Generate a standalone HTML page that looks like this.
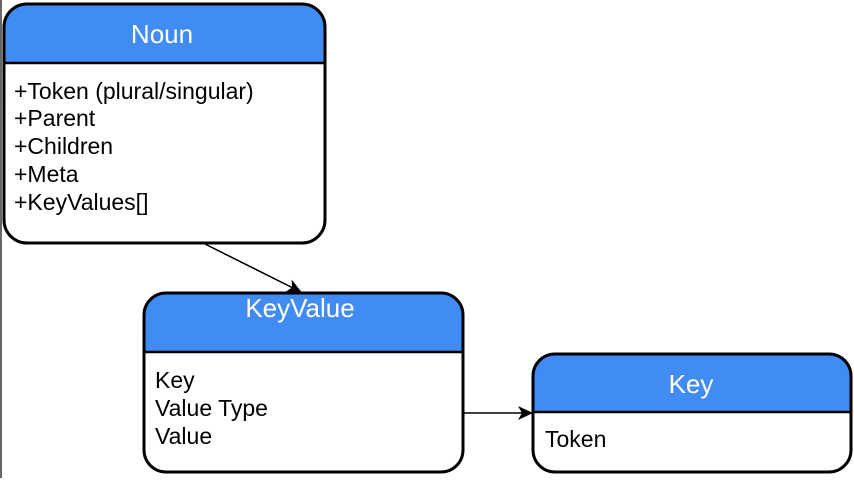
<!DOCTYPE html>
<html><head><meta charset="utf-8"><style>
body{margin:0;width:854px;height:478px;background:#fff;overflow:hidden;font-family:"Liberation Sans",Arial,sans-serif}
svg text{font-family:"Liberation Sans",Arial,sans-serif}
</style></head><body>
<svg width="854" height="478" viewBox="0 0 854 478" xmlns="http://www.w3.org/2000/svg">
<line x1="1" y1="0" x2="1" y2="478" stroke="#333" stroke-width="1.5"/>
<defs>
<marker id="a" markerWidth="16" markerHeight="16" refX="14" refY="8" orient="auto" markerUnits="userSpaceOnUse"><path d="M0,1 L15,8 L0,15 L4,8 Z" fill="#000"/></marker>
</defs>
<!-- Noun -->
<path d="M4,63 V27 Q4,4 27,4 H302 Q325,4 325,27 V63 Z" fill="#418cf3"/>
<rect x="4" y="4" width="321" height="239" rx="23" fill="none" stroke="#000" stroke-width="3"/>
<line x1="4" y1="63" x2="325" y2="63" stroke="#000" stroke-width="2.5"/>
<text x="162" y="43" font-size="26" fill="#fff" text-anchor="middle">Noun</text>
<g font-size="23" fill="#000">
<text x="14" y="99">+Token (plural/singular)</text>
<text x="14" y="126">+Parent</text>
<text x="14" y="154">+Children</text>
<text x="14" y="182">+Meta</text>
<text x="14" y="210">+KeyValues[]</text>
</g>
<!-- KeyValue -->
<path d="M144,352 V315 Q144,293 166,293 H441 Q463,293 463,315 V352 Z" fill="#418cf3"/>
<rect x="144" y="293" width="319" height="179" rx="22" fill="none" stroke="#000" stroke-width="3"/>
<line x1="144" y1="352" x2="463" y2="352" stroke="#000" stroke-width="2.5"/>
<text x="300" y="317" font-size="26" fill="#fff" text-anchor="middle">KeyValue</text>
<g font-size="23" fill="#000">
<text x="155" y="388">Key</text>
<text x="155" y="416">Value Type</text>
<text x="155" y="444">Value</text>
</g>
<!-- Key -->
<path d="M533,412 V375 Q533,354 555,354 H830 Q851,354 851,375 V412 Z" fill="#418cf3"/>
<rect x="533" y="354" width="318" height="118" rx="22" fill="none" stroke="#000" stroke-width="3"/>
<line x1="533" y1="412" x2="851" y2="412" stroke="#000" stroke-width="2.5"/>
<text x="691" y="393" font-size="26" fill="#fff" text-anchor="middle">Key</text>
<text x="545" y="447" font-size="23" fill="#000">Token</text>
<!-- connectors -->
<line x1="205" y1="244" x2="301" y2="292" stroke="#000" stroke-width="1.5" marker-end="url(#a)"/>
<line x1="464" y1="413" x2="532" y2="413" stroke="#000" stroke-width="1.5" marker-end="url(#a)"/>
</svg>
</body></html>
